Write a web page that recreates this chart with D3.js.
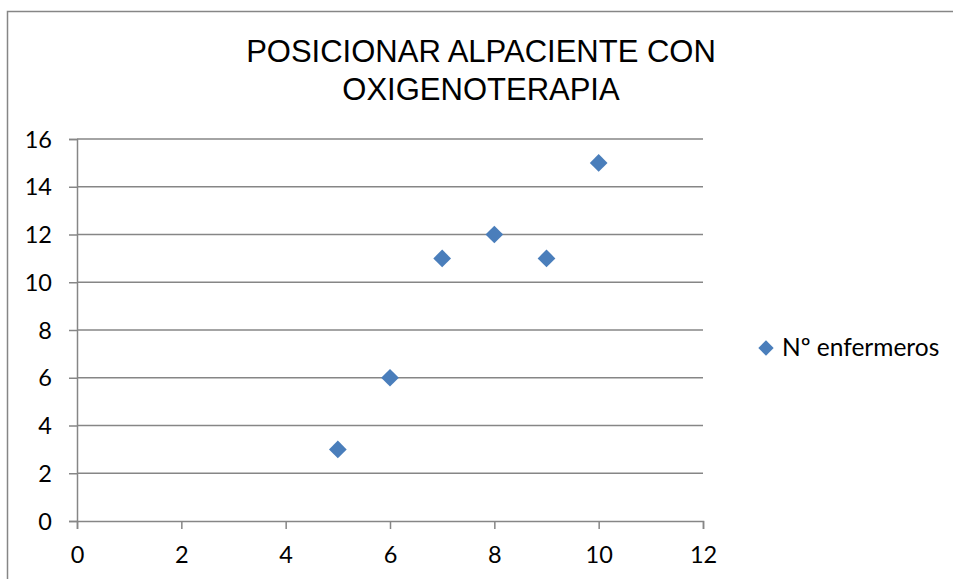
<!DOCTYPE html>
<html><head><meta charset="utf-8">
<script src="https://cdn.jsdelivr.net/npm/d3@7"></script>
<style>body{margin:0;background:#fff;overflow:hidden}svg{display:block}</style>
</head><body>
<svg id="c" width="953" height="579"></svg>
<script>
const titleLines = ["POSICIONAR ALPACIENTE CON", "OXIGENOTERAPIA"];
const seriesName = "Nº enfermeros";
const xValues = [5, 6, 7, 8, 9, 10];
const yValues = [3, 6, 11, 12, 11, 15];
const xTicks = [0, 2, 4, 6, 8, 10, 12];
const yTicks = [0, 2, 4, 6, 8, 10, 12, 14, 16];

const svg = d3.select("#c");
const gray = "#868686";
const blue = "#4A7EBB";
const font = "Lato, 'Open Sans', sans-serif";

// frame (only left and top edges visible)
svg.append("path").attr("d", "M7.5,579V11.5H953")
  .attr("fill", "none").attr("stroke", gray).attr("stroke-width", 1.5);

const x = d3.scaleLinear().domain([0, 12]).range([77, 703]);
const y = d3.scaleLinear().domain([0, 16]).range([521, 139]);

// gridlines
svg.append("g").selectAll("line").data(yTicks.filter(d => d > 0)).join("line")
  .attr("x1", x(0)).attr("x2", x(12)).attr("y1", d => y(d)).attr("y2", d => y(d))
  .attr("stroke", gray).attr("stroke-width", 1.5);

const yAxis = d3.axisLeft(y).tickValues(yTicks).tickSize(8).tickPadding(17).tickFormat(d3.format("d"));
const gy = svg.append("g").attr("transform", `translate(${x(0)},0)`).call(yAxis);
const xAxis = d3.axisBottom(x).tickValues(xTicks).tickSize(8).tickPadding(17).tickFormat(d3.format("d"));
const gx = svg.append("g").attr("transform", `translate(0,${y(0)})`).call(xAxis);

[gx, gy].forEach(g => {
  g.select(".domain").attr("stroke", gray).attr("stroke-width", 1.5);
  g.selectAll(".tick line").attr("stroke", gray).attr("stroke-width", 1.5);
  g.selectAll("text").attr("font-family", font).attr("font-size", 23.5).attr("fill", "#000");
});
gx.selectAll("text").attr("dy", "0.71em");
gy.selectAll("text").attr("dy", "0.35em");

// points
const diamond = d3.symbol().type(d3.symbolDiamond2).size(200);
svg.append("g").selectAll("path").data(xValues.map((v, i) => [v, yValues[i]])).join("path")
  .attr("d", diamond)
  .attr("transform", d => `translate(${x(d[0])},${y(d[1])})`)
  .attr("fill", blue);

// title
svg.append("g").selectAll("text").data(titleLines).join("text")
  .attr("x", 481).attr("y", (d, i) => 61.5 + i * 38)
  .attr("text-anchor", "middle")
  .attr("font-family", "'Liberation Sans', Arial, sans-serif")
  .attr("font-size", 31).attr("fill", "#000").text(d => d);

// legend
const lg = svg.append("g").attr("transform", "translate(766,348)");
lg.append("path").attr("d", d3.symbol().type(d3.symbolDiamond2).size(150)).attr("fill", blue);
lg.append("text").attr("x", 16).attr("y", 8.3)
  .attr("font-family", font).attr("font-size", 24.5).attr("fill", "#000").text(seriesName);
</script>
</body></html>
